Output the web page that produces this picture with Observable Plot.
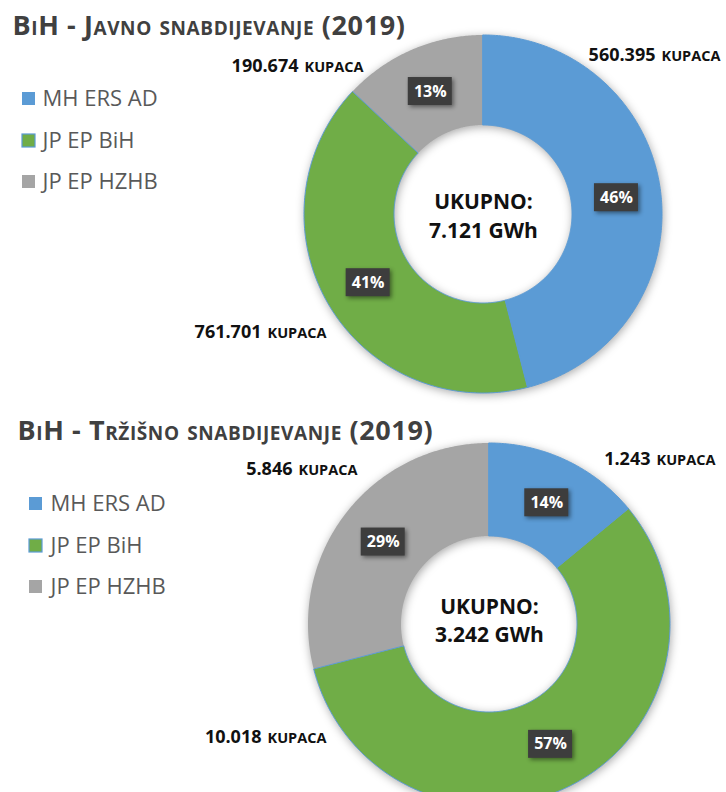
<!DOCTYPE html>
<html>
<head>
<meta charset="utf-8">
<script src="https://cdn.jsdelivr.net/npm/d3@7"></script>
<script src="https://cdn.jsdelivr.net/npm/@observablehq/plot@0.6"></script>
<style>
  html, body { margin: 0; padding: 0; background: #fff; }
  #chart { width: 726px; height: 792px; overflow: hidden; }
</style>
</head>
<body>
<div id="chart"></div>
<script>
// ---- data ----
const companies = ["MH ERS AD", "JP EP BiH", "JP EP HZHB"];
const colors = ["#5B9BD5", "#70AD47", "#A5A5A5"];
const titles = ["BiH - Javno snabdijevanje (2019)", "BiH - Tržišno snabdijevanje (2019)"];
const javnoShares = [46, 41, 13];
const javnoKupaca = ["560.395", "761.701", "190.674"];
const javnoTotal = "7.121 GWh";
const trzisnoShares = [14, 57, 29];
const trzisnoKupaca = ["1.243", "10.018", "5.846"];
const trzisnoTotal = "3.242 GWh";
const totalLabel = "UKUPNO:";
const unitLabel = "KUPACA";

// ---- layout (pixels) ----
const W = 726, H = 792;
const panels = [
  { shares: javnoShares, kupaca: javnoKupaca, total: javnoTotal, title: titles[0],
    cx: 483, cy: 214, R: 179, r: 89,
    titleX: 12, titleY: 34,
    legendX: 22, legendTextX: 42, legendY: [105, 147, 188],
    kup: [[655, 60], [261, 337], [298, 71]],
    totalY: [208, 237] },
  { shares: trzisnoShares, kupaca: trzisnoKupaca, total: trzisnoTotal, title: titles[1],
    cx: 489, cy: 624, R: 181, r: 88,
    titleX: 17, titleY: 439,
    legendX: 29, legendTextX: 50, legendY: [510, 552, 593],
    kup: [[650, 464], [261, 742], [292, 474]],
    totalY: [613, 641] }
];

const slicePts = [], boxes = [], kupRows = [], legendRows = [], titleRows = [], centerRows = [];
panels.forEach((p, pi) => {
  const arcs = d3.pie().sort(null).value(d => d)(p.shares);
  arcs.forEach((a, i) => {
    const key = pi + "-" + i;
    const n = Math.max(2, Math.ceil((a.endAngle - a.startAngle) / (Math.PI / 360)));
    for (let k = 0; k <= n; k++) {
      const t = a.startAngle + (a.endAngle - a.startAngle) * k / n;
      slicePts.push({ key, company: companies[i],
        xo: p.cx + p.R * Math.sin(t), yo: p.cy - p.R * Math.cos(t),
        xi: p.cx + p.r * Math.sin(t), yi: p.cy - p.r * Math.cos(t) });
    }
    const mid = (a.startAngle + a.endAngle) / 2, rm = (p.R + p.r) / 2;
    boxes.push({ x: p.cx + rm * Math.sin(mid), y: p.cy - rm * Math.cos(mid), label: p.shares[i] + "%" });
    kupRows.push({ x: p.kup[i][0], y: p.kup[i][1], num: p.kupaca[i] });
    legendRows.push({ company: companies[i], x: p.legendX, tx: p.legendTextX, y: p.legendY[i] });
  });
  titleRows.push({ x: p.titleX, y: p.titleY, text: p.title });
  centerRows.push({ x: p.cx, y: p.totalY[0], text: totalLabel });
  centerRows.push({ x: p.cx, y: p.totalY[1], text: p.total });
});

const font = "Open Sans, Noto Sans, sans-serif";
const plot = Plot.plot({
  width: W, height: H, margin: 0,
  style: { fontFamily: font, background: "#fff", overflow: "visible" },
  x: { domain: [0, W], range: [0, W], axis: null },
  y: { domain: [0, H], range: [0, H], axis: null },
  color: { domain: companies, range: colors },
  marks: [
    Plot.area(slicePts, { x1: "xo", y1: "yo", x2: "xi", y2: "yi", z: "key", fill: "company" }),
    Plot.area(slicePts.filter(d => d.company !== companies[2]), { x1: "xo", y1: "yo", x2: "xi", y2: "yi", z: "key", fill: "none", stroke: "#5B9BD5", strokeWidth: 1 }),
    Plot.rect(boxes, { x1: d => d.x - 22, x2: d => d.x + 22, y1: d => d.y - 14, y2: d => d.y + 14, fill: "#3d3d3d" }),
    Plot.text(boxes, { x: "x", y: "y", text: "label", fill: "white", fontSize: 16, fontWeight: "bold" }),
    Plot.text(centerRows, { x: "x", y: "y", text: "text", fill: "#111", fontSize: 21, fontWeight: "bold", lineAnchor: "bottom" }),
    Plot.text(kupRows, { x: "x", y: "y", text: "num", fill: "#111", fontSize: 18, fontWeight: "bold", textAnchor: "end", lineAnchor: "bottom" }),
    Plot.text(kupRows, { x: d => d.x + 6, y: "y", text: () => unitLabel, fill: "#111", fontSize: 14.5, fontWeight: "bold", textAnchor: "start", lineAnchor: "bottom" }),
    Plot.rect(legendRows, { x1: "x", x2: d => d.x + 13, y1: d => d.y - 13, y2: d => d.y, fill: "company" }),
    Plot.rect(legendRows.filter(d => d.company === companies[1]), { x1: "x", x2: d => d.x + 13, y1: d => d.y - 13, y2: d => d.y, fill: "none", stroke: "#5B9BD5", strokeWidth: 1.2 }),
    Plot.text(legendRows, { x: "tx", y: "y", text: "company", fill: "#595959", fontSize: 22, textAnchor: "start", lineAnchor: "bottom" }),
    Plot.text(titleRows, { x: "x", y: "y", text: "text", fill: "#404040", fontSize: 27, fontWeight: "bold", fontVariant: "small-caps", textAnchor: "start", lineAnchor: "bottom" })
  ]
});
document.getElementById("chart").appendChild(plot);
const areas = plot.querySelectorAll('g[aria-label="area"]');
if (areas[0]) areas[0].style.filter = "drop-shadow(1px 2px 5px rgba(0,0,0,0.35))";
const rects = plot.querySelectorAll('g[aria-label="rect"]');
if (rects[0]) rects[0].style.filter = "drop-shadow(2px 2px 2px rgba(0,0,0,0.45))";
const texts = plot.querySelectorAll('g[aria-label="text"]');
const titleG = texts[texts.length - 1];
if (titleG) titleG.style.letterSpacing = "0.6px";
</script>
</body>
</html>
